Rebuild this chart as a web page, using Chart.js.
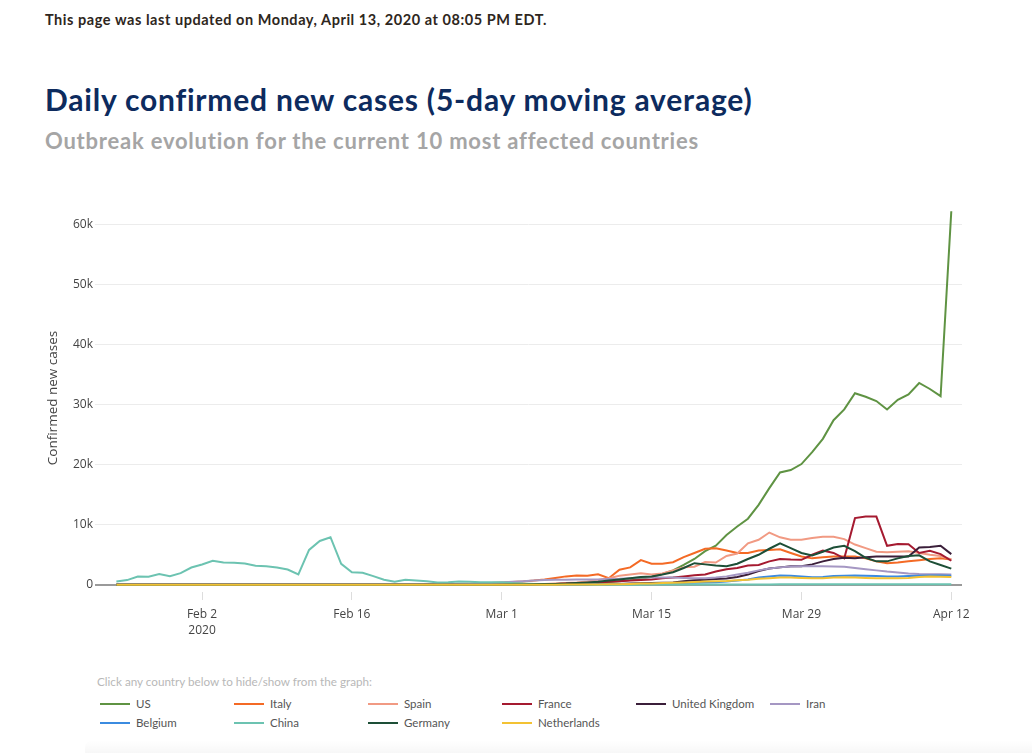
<!DOCTYPE html>
<html><head><meta charset="utf-8">
<script src="https://cdn.jsdelivr.net/npm/chart.js@4.4.0/dist/chart.umd.min.js"></script>
<style>
html,body{margin:0;padding:0;background:#fff;width:1032px;height:753px;overflow:hidden;position:relative;font-family:Lato,sans-serif;}
.hdr{position:absolute;left:45px;top:11px;font:700 14.5px Lato;line-height:18px;letter-spacing:0.55px;color:#2e2620;white-space:nowrap;}
.title{position:absolute;left:45px;top:81px;font:700 30px Lato;line-height:36px;letter-spacing:0.8px;color:#0d2b5e;white-space:nowrap;}
.sub{position:absolute;left:45px;top:128px;font:700 22px Lato;line-height:26px;letter-spacing:0.78px;color:#a5a5a5;white-space:nowrap;}
#wrap{position:absolute;left:0;top:190px;width:1032px;height:470px;}
.note{position:absolute;left:97px;top:673px;font:400 11.7px Lato;line-height:16px;color:#b8b8b8;white-space:nowrap;}
.item{position:absolute;height:16px;font:400 11.5px Lato;color:#555;white-space:nowrap;}
.item .sw{position:absolute;left:0;top:7px;width:30px;height:2px;}
.item .lb{position:absolute;left:36px;top:0;line-height:16px;}
.shade{position:absolute;left:85px;top:740px;width:947px;height:13px;background:linear-gradient(to bottom,rgba(0,0,0,0),rgba(0,0,0,0.03));border-top-left-radius:8px;}
</style></head>
<body>
<div class="hdr">This page was last updated on Monday, April 13, 2020 at 08:05 PM EDT.</div>
<div class="title">Daily confirmed new cases (5-day moving average)</div>
<div class="sub">Outbreak evolution for the current 10 most affected countries</div>
<div id="wrap"><canvas id="c"></canvas></div>
<div class="note">Click any country below to hide/show from the graph:</div>
<div id="legend"></div>
<div class="shade"></div>
<script>
// Categories and colours
const countries = ['US','Italy','Spain','France','United Kingdom','Iran','Belgium','China','Germany','Netherlands'];
const colors = ['#5f9343','#f46a25','#f19a83','#a51a30','#3b1f3a','#a597c3','#3b8be0','#6cc3b1','#1d4f37','#f3c233'];

// X axis: day index 0 = Jan 25, 2020 ... 78 = Apr 12, 2020
const tickDays = [8, 22, 36, 50, 64, 78];
const tickLabels = [['Feb 2','2020'], 'Feb 16', 'Mar 1', 'Mar 15', 'Mar 29', 'Apr 12'];
const yTicks = [0, 10000, 20000, 30000, 40000, 50000, 60000];
const yTickLabels = ['0', '10k', '20k', '30k', '40k', '50k', '60k'];

// Series (daily confirmed new cases, Jan 25 .. Apr 12)
const US = [
  0,0,0,0,0,0,0,0,0,0,
  0,0,0,0,0,0,0,0,0,0,
  0,0,0,0,0,0,0,0,0,0,
  0,0,0,2,3,5,10,20,40,60,
  90,130,170,230,300,380,470,600,780,1000,
  1300,1800,2400,3300,4300,5600,6500,8300,9700,11000,
  13300,16100,18700,19100,20100,22100,24300,27400,29200,31900,
  31300,30600,29200,30800,31700,33600,32600,31400,62200];
const Italy = [
  0,0,0,0,0,0,0,0,0,0,
  0,0,0,0,0,0,0,0,0,0,
  0,0,0,0,0,0,0,2,20,40,
  70,100,130,170,220,280,350,450,550,700,
  900,1150,1400,1550,1500,1750,1100,2500,2900,4100,
  3500,3500,3750,4600,5300,6000,6100,5700,5300,5300,
  5700,5800,5900,5300,4700,4400,4600,4700,4700,4700,
  4400,3900,3600,3700,3900,4100,4300,4400,4200];
const Spain = [
  0,0,0,0,0,0,0,0,0,0,
  0,0,0,0,0,0,0,0,0,0,
  0,0,0,0,0,0,0,0,0,0,
  0,0,0,0,5,10,20,30,50,80,
  120,200,300,400,550,800,1100,1500,1700,1900,
  1700,1900,2400,2900,3000,3800,3700,4800,5200,6900,
  7500,8700,7900,7500,7500,7800,8000,8000,7600,6700,
  6100,5500,5400,5500,5600,5300,5000,4800,4200];
const France = [
  0,0,0,0,0,0,0,0,0,0,
  0,0,0,0,0,0,0,0,0,0,
  0,0,0,0,0,0,0,0,0,0,
  0,0,0,0,5,10,15,20,40,60,
  100,150,200,250,300,400,500,600,700,800,
  900,1100,1200,1400,1600,1700,2200,2600,2800,3200,
  3300,3900,4300,4200,4150,5000,5700,5300,4400,11100,
  11350,11350,6500,6800,6750,5300,5650,5100,4000];
const UnitedKingdom = [
  0,0,0,0,0,0,0,0,0,0,
  0,0,0,0,0,0,0,0,0,0,
  0,0,0,0,0,0,0,0,0,0,
  0,0,0,0,0,5,10,15,20,25,
  30,35,40,50,60,80,100,150,200,250,
  300,350,400,600,750,850,950,1050,1300,1700,
  2300,2700,2900,3100,3100,3400,3900,4300,4500,4400,
  4600,4700,4700,4700,4700,6200,6300,6500,5100];
const Iran = [
  0,0,0,0,0,0,0,0,0,0,
  0,0,0,0,0,0,0,0,0,0,
  0,0,0,0,0,0,2,5,10,20,
  40,60,100,150,200,300,400,500,600,700,
  800,850,850,900,900,900,950,1000,1100,1200,
  1200,1200,1200,1150,1100,1100,1200,1400,1700,2000,
  2400,2700,2900,3050,3100,3100,3100,3050,3000,2800,
  2600,2400,2200,2050,1900,1800,1750,1750,1700];
const Belgium = [
  0,0,0,0,0,0,0,0,0,0,
  0,0,0,0,0,0,0,0,0,0,
  0,0,0,0,0,0,0,0,0,0,
  0,0,0,0,0,0,2,5,10,15,
  20,25,30,40,50,60,80,100,130,150,
  180,210,250,280,330,380,440,550,700,900,
  1200,1400,1550,1500,1400,1250,1300,1450,1500,1550,
  1500,1450,1400,1400,1450,1500,1550,1550,1500];
const China = [
  550,780,1380,1330,1780,1440,1940,2880,3380,3990,
  3710,3650,3540,3160,3100,2880,2550,1720,5810,7300,
  7920,3490,2100,1990,1440,830,500,830,720,600,
  400,440,550,500,440,440,440,300,200,150,
  100,70,50,40,30,25,20,20,20,25,
  30,30,30,35,40,40,45,50,55,60,
  60,65,70,70,75,80,80,85,85,90,
  90,95,95,90,85,85,80,80,80];
const Germany = [
  0,0,0,0,0,0,0,0,0,0,
  0,0,0,0,0,0,0,0,0,0,
  0,0,0,0,0,0,0,0,0,0,
  0,0,0,0,5,10,20,40,60,100,
  130,150,200,300,400,500,700,900,1100,1300,
  1400,1700,2100,2800,3600,3400,3200,3100,3500,4300,
  5000,6000,6900,6100,5300,4900,5500,6200,6500,5600,
  4500,3900,3900,4400,4800,4900,3900,3300,2700];
const Netherlands = [
  0,0,0,0,0,0,0,0,0,0,
  0,0,0,0,0,0,0,0,0,0,
  0,0,0,0,0,0,0,0,0,0,
  0,0,0,0,0,0,2,5,8,12,
  18,25,30,40,50,60,80,100,150,200,
  230,280,330,400,480,550,600,650,750,850,
  1000,1100,1200,1200,1150,1100,1100,1200,1250,1200,
  1150,1100,1100,1100,1150,1300,1400,1350,1300];

const series = [US, Italy, Spain, France, UnitedKingdom, Iran, Belgium, China, Germany, Netherlands];

Chart.defaults.font.family = "'Open Sans', sans-serif";
Chart.defaults.color = '#444';

const datasets = countries.map((name, i) => ({
  label: name,
  data: series[i].map((v, d) => ({x: d, y: v})),
  borderColor: colors[i],
  backgroundColor: colors[i],
  borderWidth: 2,
  pointRadius: 0,
  tension: 0,
  fill: false,
  order: countries.length - i
}));

new Chart(document.getElementById('c'), {
  type: 'line',
  data: { datasets },
  options: {
    responsive: true,
    maintainAspectRatio: false,
    animation: false,
    events: [],
    layout: { padding: { top: 14, right: 70, left: 0, bottom: 0 } },
    plugins: { legend: { display: false }, tooltip: { enabled: false } },
    scales: {
      x: {
        type: 'linear',
        min: -2,
        max: 79,
        afterBuildTicks: s => { s.ticks = tickDays.map(v => ({ value: v })); },
        afterFit: s => { s.height = 68; },
        border: { display: false },
        grid: { display: true, drawOnChartArea: false, drawTicks: true, tickLength: 8, color: '#dddddd', lineWidth: 1 },
        ticks: {
          autoSkip: false, maxRotation: 0, padding: 6,
          font: { size: 12, lineHeight: 1.35 }, color: '#444',
          callback: (v, i) => tickLabels[i]
        }
      },
      y: {
        min: -1200,
        max: 63400,
        afterBuildTicks: s => { s.ticks = yTicks.map(v => ({ value: v })); },
        afterFit: s => { s.width = 95; },
        border: { display: false },
        grid: {
          drawTicks: false,
          color: c => (c.tick && c.tick.value === 0) ? '#9a9a9a' : '#ececec',
          lineWidth: c => (c.tick && c.tick.value === 0) ? 2 : 1
        },
        ticks: {
          padding: 2, font: { size: 12 }, color: '#444',
          callback: (v, i) => yTickLabels[i]
        },
        title: {
          display: true, text: 'Confirmed new cases', color: '#444',
          font: { size: 13.5 }, padding: { top: 45, bottom: 0 }
        }
      }
    }
  }
});

// HTML legend built from the categories
const lg = document.getElementById('legend');
countries.forEach((name, i) => {
  const el = document.createElement('div');
  el.className = 'item';
  el.style.left = (100 + 134 * (i % 6)) + 'px';
  el.style.top = (696 + 19 * Math.floor(i / 6)) + 'px';
  el.innerHTML = '<span class="sw" style="background:' + colors[i] + '"></span><span class="lb"></span>';
  el.querySelector('.lb').textContent = name;
  lg.appendChild(el);
});
</script>
</body></html>
